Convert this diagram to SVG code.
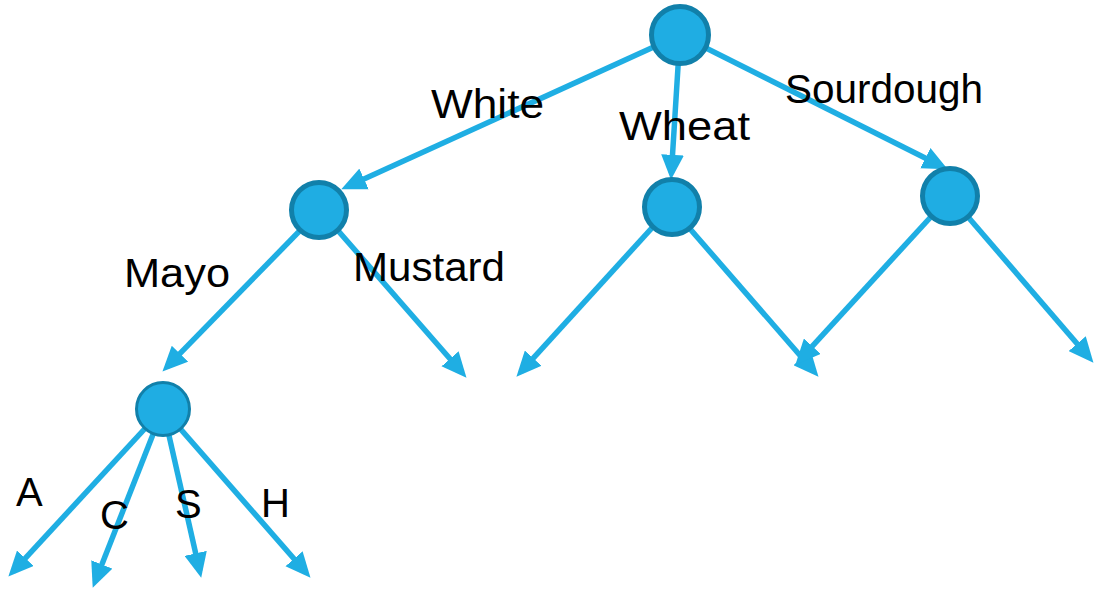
<svg xmlns="http://www.w3.org/2000/svg" width="1094" height="589" viewBox="0 0 1094 589">
<style>
.e{stroke:#1FAEE3;stroke-width:5.5;fill:none;marker-end:url(#ah)}
.n{fill:#1FADE3;stroke:#1180AA;stroke-width:5}
.t{font-family:"Liberation Sans",Arial,sans-serif;font-size:40px;fill:#000}
</style>
<defs>
<marker id="ah" markerUnits="userSpaceOnUse" markerWidth="25" markerHeight="23" refX="16" refY="10" orient="auto" viewBox="0 0 22 20">
<path d="M0,0 L22,10 L0,20 z" fill="#1FAEE3"/>
</marker>
</defs>
<rect width="1094" height="589" fill="#fff"/>
<g id="connectors">
<line class="e" x1="680" y1="35" x2="347.5" y2="186.5"/>
<line class="e" x1="680" y1="35" x2="671.4" y2="173"/>
<line class="e" x1="680" y1="35" x2="941.6" y2="166.3"/>
<line class="e" x1="320" y1="210" x2="167.2" y2="366.7"/>
<line class="e" x1="320" y1="210" x2="462" y2="372.5"/>
<line class="e" x1="671" y1="207" x2="521" y2="371.6"/>
<line class="e" x1="671" y1="207" x2="814" y2="371.5"/>
<line class="e" x1="950" y1="196" x2="800" y2="359.6"/>
<line class="e" x1="950" y1="196" x2="1089" y2="357.5"/>
<line class="e" x1="163" y1="409" x2="13" y2="571.6"/>
<line class="e" x1="163" y1="409" x2="95.2" y2="581.4"/>
<line class="e" x1="163" y1="409" x2="199.7" y2="571.1"/>
<line class="e" x1="163" y1="409" x2="306" y2="572.5"/>
</g>
<g id="root"><circle class="n" cx="680" cy="35" r="28.5"/></g>
<g id="white"><circle class="n" cx="319" cy="210" r="27.5"/></g>
<g id="wheat"><circle class="n" cx="672" cy="207" r="27.5"/></g>
<g id="sourdough"><circle class="n" cx="950" cy="196" r="27.5"/></g>
<g id="mayo"><circle class="n" cx="163" cy="409" r="26.5" style="stroke-width:3"/></g>
<g id="labels">
<text class="t" x="431" y="118" textLength="113" lengthAdjust="spacingAndGlyphs">White</text>
<text class="t" x="619" y="140" textLength="131" lengthAdjust="spacingAndGlyphs">Wheat</text>
<text class="t" x="785" y="103" textLength="198" lengthAdjust="spacingAndGlyphs">Sourdough</text>
<text class="t" x="124" y="287" textLength="106" lengthAdjust="spacingAndGlyphs">Mayo</text>
<text class="t" x="353" y="281" textLength="152" lengthAdjust="spacingAndGlyphs">Mustard</text>
<text class="t" x="16" y="506">A</text>
<text class="t" x="100" y="529">C</text>
<text class="t" x="175" y="518">S</text>
<text class="t" x="261" y="517">H</text>
</g>
</svg>
